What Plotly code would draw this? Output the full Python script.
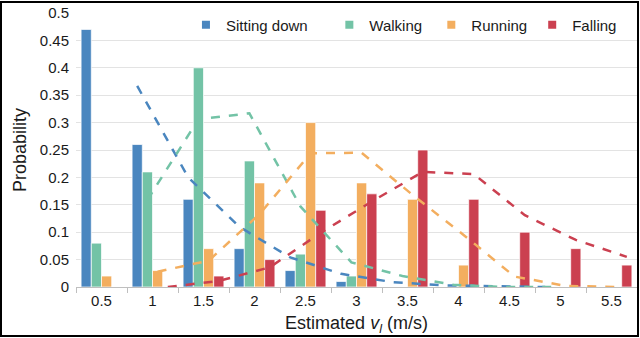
import plotly.graph_objects as go

# estimated velocity bins (m/s)
speeds = [0.5, 1.0, 1.5, 2.0, 2.5, 3.0, 3.5, 4.0, 4.5, 5.0, 5.5]
tick_text = ["0.5", "1", "1.5", "2", "2.5", "3", "3.5", "4", "4.5", "5", "5.5"]

activities = ["Sitting down", "Walking", "Running", "Falling"]
colors = ["#4a86bf", "#73c3a6", "#f3ae5f", "#cb4050"]
# trailing non-breaking spaces to widen the legend gaps like the original
legend_pad = [4, 1, 0, 0]

# measured probabilities (bars)
sitting_bar = [0.47, 0.26, 0.16, 0.07, 0.03, 0.01, 0, 0, 0, 0, 0]
walking_bar = [0.08, 0.21, 0.40, 0.23, 0.06, 0.02, 0, 0, 0, 0, 0]
running_bar = [0.02, 0.03, 0.07, 0.19, 0.30, 0.19, 0.16, 0.04, 0, 0, 0]
falling_bar = [0, 0, 0.02, 0.05, 0.14, 0.17, 0.25, 0.16, 0.10, 0.07, 0.04]

# fitted curves (dashed), None where not drawn
sitting_fit = [None, 0.367, 0.20, 0.11, 0.054, 0.024, 0.009, 0.003, 0.001, 0.0, None]
walking_fit = [None, 0.159, 0.306, 0.317, 0.147, 0.045, 0.02, 0.004, 0.0, 0.0, None]
running_fit = [None, 0.028, 0.048, 0.133, 0.244, 0.245, 0.168, 0.095, 0.019, 0.002, 0.0]
falling_fit = [None, 0.0, 0.011, 0.036, 0.099, 0.156, 0.21, 0.206, 0.131, 0.086, 0.055]

bars = [sitting_bar, walking_bar, running_bar, falling_bar]
fits = [sitting_fit, walking_fit, running_fit, falling_fit]

step = 0.5
bargap = 0.2
slot = step * (1 - bargap) / len(activities)

fig = go.Figure()

for k, name in enumerate(activities):
    fig.add_trace(go.Bar(
        x=speeds, y=bars[k], name=name, showlegend=False,
        marker=dict(color=colors[k], line=dict(color="rgba(255,255,255,0.7)", width=1)),
    ))

for k, name in enumerate(activities):
    off = (k - (len(activities) - 1) / 2) * slot
    fig.add_trace(go.Scatter(
        x=[v + off for v in speeds], y=fits[k], mode="lines", showlegend=False,
        line=dict(color=colors[k], width=2.5, dash="dash"), connectgaps=False,
    ))

# legend entries with small square swatches
for k, name in enumerate(activities):
    fig.add_trace(go.Scatter(
        x=[None], y=[None], mode="markers", name=name + "\u00a0" * legend_pad[k],
        marker=dict(symbol="square", size=8, color=colors[k]),
    ))

ml, mr, mt, mb = 76, 3, 13, 51
W, H = 640, 338
pw, ph = W - ml - mr, H - mt - mb

fig.update_layout(
    width=W, height=H,
    margin=dict(l=ml, r=mr, t=mt, b=mb, autoexpand=False),
    barmode="group", bargap=bargap, bargroupgap=0,
    plot_bgcolor="white", paper_bgcolor="white",
    font=dict(family="Liberation Sans, Arial, sans-serif", size=15, color="#1a1a1a"),
    legend=dict(
        orientation="h", x=0.196, y=0.956, xanchor="left", yanchor="middle",
        bgcolor="rgba(0,0,0,0)", font=dict(size=15), itemwidth=30,
    ),
    showlegend=True,
)

fig.update_xaxes(
    range=[speeds[0] - step / 2, speeds[-1] + step / 2],
    tickvals=speeds, ticktext=tick_text, ticks="",
    showgrid=False, showline=True, linecolor="#bfbfbf", linewidth=1,
    minor=dict(tick0=speeds[0] - step / 2, dtick=step, ticks="outside",
               ticklen=5, tickcolor="#bfbfbf", showgrid=False),
    title=dict(text="Estimated <i>v</i><sub><i>l</i></sub> (m/s)", standoff=8),
    zeroline=False, automargin=False,
)
fig.update_yaxes(
    range=[0, 0.5], dtick=0.05, tick0=0,
    showgrid=True, gridcolor="#e3e3e3", gridwidth=1.3,
    zeroline=False, showline=False, ticks="", ticklabelstandoff=6,
    title=dict(text="Probability", standoff=8),
    automargin=False,
)

# thin black frame around the whole picture
fig.add_shape(
    type="rect", xref="paper", yref="paper",
    x0=-(ml - 1) / pw, x1=1 + (mr - 2) / pw,
    y0=-(mb - 2) / ph, y1=1 + (mt - 2) / ph,
    line=dict(color="black", width=2), fillcolor="rgba(0,0,0,0)", layer="above",
)

fig.write_html(
    "out.html",
    config={"displayModeBar": False},
    post_script="document.body.style.margin='0';document.body.style.overflow='hidden';",
)
